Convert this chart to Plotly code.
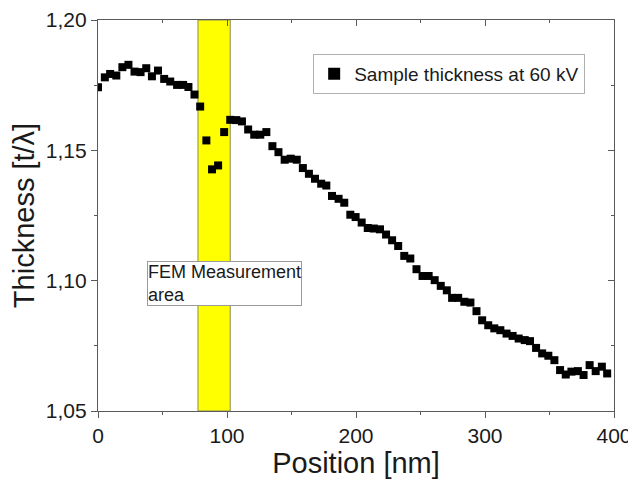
import plotly.graph_objects as go

position_nm = [0, 5.3, 9.4, 14.2, 18.9, 23.6, 28.3, 33.0, 37.4, 41.8, 46.5, 51.3, 56.0, 61.3, 66.0,
               70.1, 74.8, 79.2, 84.0, 88.4, 93.1, 97.8, 102.5, 107.2, 111.6, 116.4, 121.1, 125.8,
               130.5, 135.2, 139.9, 144.7, 149.4, 154.1, 158.8, 163.5, 168.2, 173.0, 177.0, 181.4,
               186.5, 190.9, 195.6, 199.7, 204.4, 209.1, 213.8, 218.6, 223.3, 228.0, 232.7, 237.4,
               242.1, 246.9, 251.6, 256.3, 261.0, 265.7, 270.4, 274.5, 279.2, 284.0, 288.7, 293.4,
               297.8, 302.5, 307.2, 311.9, 316.7, 321.4, 326.1, 330.8, 334.9, 339.6, 344.3, 349.1,
               353.8, 358.2, 362.6, 367.0, 372.0, 376.4, 381.1, 385.8, 390.6, 394.7]
thickness = [1.1742, 1.1780, 1.1793, 1.1787, 1.1819, 1.1828, 1.1802, 1.1800, 1.1815, 1.1784,
             1.1806, 1.1774, 1.1764, 1.1751, 1.1751, 1.1743, 1.1714, 1.1668, 1.1538, 1.1427,
             1.1442, 1.1570, 1.1617, 1.1616, 1.1611, 1.1580, 1.1560, 1.1560, 1.1570, 1.1516,
             1.1493, 1.1464, 1.1468, 1.1464, 1.1432, 1.1410, 1.1391, 1.1372, 1.1365, 1.1325,
             1.1314, 1.1299, 1.1253, 1.1244, 1.1223, 1.1202, 1.1200, 1.1197, 1.1177, 1.1155,
             1.1133, 1.1095, 1.1085, 1.1044, 1.1018, 1.1018, 1.1002, 1.0980, 1.0963, 1.0934,
             1.0934, 1.0919, 1.0916, 1.0883, 1.0848, 1.0829, 1.0817, 1.0810, 1.0797, 1.0788,
             1.0778, 1.0772, 1.0768, 1.0742, 1.0721, 1.0712, 1.0695, 1.0657, 1.0640, 1.0651,
             1.0653, 1.0638, 1.0676, 1.0653, 1.0670, 1.0644]

band_range = [77.5, 102.5]
x_ticks = [0, 100, 200, 300, 400]
y_ticks = [1.05, 1.10, 1.15, 1.20]
series_name = "Sample thickness at 60 kV"
annotation_text = "FEM Measurement<br>area"

FONT = "Liberation Sans, Arial, sans-serif"
AXCOL = "#5a5a5a"

fig = go.Figure()
fig.add_trace(go.Scatter(
    x=position_nm, y=thickness, mode="markers", name=series_name,
    marker=dict(symbol="square", size=8, color="black"),
))
# overlay axes for inward ticks on top/right
fig.add_trace(go.Scatter(
    x=position_nm, y=thickness, mode="markers", xaxis="x2", yaxis="y2",
    marker=dict(opacity=0), showlegend=False, hoverinfo="skip",
))

fig.add_shape(type="rect", xref="x", yref="paper", x0=band_range[0], x1=band_range[1],
              y0=0, y1=1, fillcolor="#ffff00", line=dict(color="#8a8a5a", width=1), layer="below")

fig.add_annotation(x=38, y=1.1075, xref="x", yref="y", text=annotation_text, showarrow=False,
                   xanchor="left", yanchor="top", align="left",
                   font=dict(family=FONT, size=18, color="#1a1a1a"),
                   bgcolor="white", bordercolor="#9a9a9a", borderwidth=1, borderpad=0)

axis_common = dict(showgrid=False, zeroline=False, showline=True, linecolor=AXCOL, linewidth=1.2,
                   ticks="outside", ticklen=6, tickcolor=AXCOL, automargin=False,
                   tickfont=dict(family=FONT, size=21, color="#1a1a1a"))

# page body has an 8px default margin, so the figure is sized to fit inside the window
fig.update_layout(
    width=628, height=483,
    margin=dict(l=90, r=22, t=12, b=80),
    paper_bgcolor="white", plot_bgcolor="white",
    separators=",.",
    xaxis=dict(range=[0, 400], tickvals=x_ticks, mirror=True,
               minor=dict(dtick=50, ticks="outside", ticklen=3, tickcolor=AXCOL),
               title=dict(text="Position [nm]", font=dict(family=FONT, size=29, color="#1a1a1a"),
                          standoff=6),
               **axis_common),
    yaxis=dict(range=[1.05, 1.20], tickvals=y_ticks, tickformat=".2f", mirror=True,
               minor=dict(dtick=0.025, ticks="outside", ticklen=3, tickcolor=AXCOL),
               title=dict(text="Thickness [t/λ]", font=dict(family=FONT, size=29, color="#1a1a1a"),
                          standoff=10),
               **axis_common),
    xaxis2=dict(range=[0, 400], overlaying="x", side="top", tickvals=x_ticks, showticklabels=False,
                ticks="inside", ticklen=6, tickcolor=AXCOL, showgrid=False, zeroline=False,
                showline=False, automargin=False,
                minor=dict(dtick=50, ticks="inside", ticklen=3, tickcolor=AXCOL)),
    yaxis2=dict(range=[1.05, 1.20], overlaying="y", side="right", tickvals=y_ticks,
                showticklabels=False, ticks="inside", ticklen=6, tickcolor=AXCOL, showgrid=False,
                zeroline=False, showline=False, automargin=False,
                minor=dict(dtick=0.025, ticks="inside", ticklen=3, tickcolor=AXCOL)),
    showlegend=True,
    legend=dict(x=0.417, y=0.913, xanchor="left", yanchor="top",
                font=dict(family=FONT, size=19, color="#1a1a1a"),
                bgcolor="white", bordercolor="#b0b0b0", borderwidth=1,
                itemsizing="constant"),
)

fig.write_html("out.html")
